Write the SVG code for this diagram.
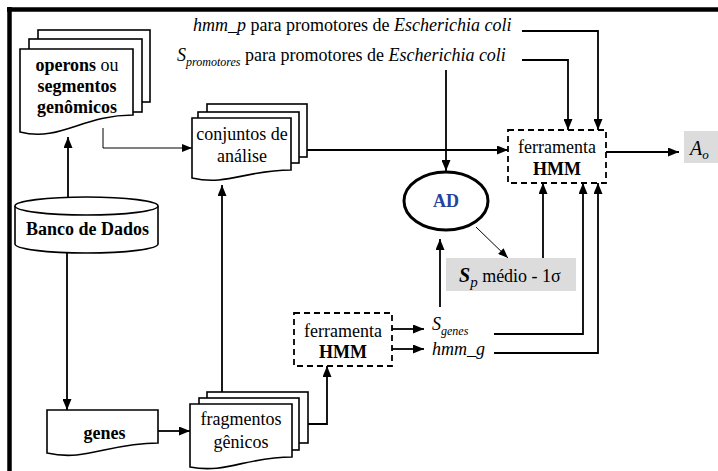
<svg xmlns="http://www.w3.org/2000/svg" width="718" height="471" viewBox="0 0 718 471">
<defs>
<marker id="ah" markerUnits="userSpaceOnUse" markerWidth="11" markerHeight="9" refX="11" refY="4.5" orient="auto">
<path d="M0,0 L11,4.5 L0,9 z" fill="#000"/>
</marker>
<marker id="ahs" markerUnits="userSpaceOnUse" markerWidth="10" markerHeight="8" refX="10" refY="4" orient="auto">
<path d="M0,0 L10,4 L0,8 z" fill="#000"/>
</marker>
</defs>
<rect width="718" height="471" fill="#fff"/>
<g id="frame" stroke="#000" stroke-width="4.5">
<line x1="7" y1="9.5" x2="718" y2="9.5"/>
<line x1="9.5" y1="7" x2="9.5" y2="471"/>
</g>

<g id="connectors" fill="none" stroke="#000" stroke-width="1.8">
<line x1="68" y1="197" x2="68" y2="137" marker-end="url(#ah)"/>
<line x1="67" y1="253" x2="67" y2="410" marker-end="url(#ah)"/>
<polyline stroke-width="1" points="103,128 103,148 192,148" marker-end="url(#ahs)"/>
<line x1="158" y1="431" x2="190" y2="431" marker-end="url(#ah)"/>
<line x1="222" y1="392" x2="222" y2="185" marker-end="url(#ah)"/>
<polyline points="308,424 327,424 327,366" marker-end="url(#ah)"/>
<line x1="392" y1="329" x2="424" y2="329" marker-end="url(#ah)"/>
<line x1="392" y1="349" x2="424" y2="349" marker-end="url(#ah)"/>
<line x1="307" y1="150" x2="508" y2="150" marker-end="url(#ah)"/>
<line x1="606" y1="152" x2="679" y2="152" marker-end="url(#ah)"/>
<polyline points="522,31 598,31 598,130" marker-end="url(#ah)"/>
<polyline points="522,60 568,60 568,130" marker-end="url(#ah)"/>
<line x1="446" y1="70" x2="446" y2="171" marker-end="url(#ah)"/>
<line x1="440" y1="307" x2="440" y2="239" marker-end="url(#ah)"/>
<line stroke-width="1" x1="476" y1="227" x2="508" y2="258" marker-end="url(#ahs)"/>
<line x1="543" y1="258" x2="543" y2="183" marker-end="url(#ah)"/>
<polyline points="494,334 583,334 583,183" marker-end="url(#ah)"/>
<polyline points="494,353 598,353 598,183" marker-end="url(#ah)"/>
</g>

<g id="operons">
<g fill="#fff" stroke="#000" stroke-width="1.6">
<rect x="38" y="30" width="112" height="72"/>
<rect x="29" y="39" width="113" height="73"/>
<path d="M20,49 H133 V115 C82,115 60,142 20,132 Z"/>
</g>
<text x="77" y="71" style="font-family:'Liberation Serif',serif !important" font-size="18" text-anchor="middle"><tspan font-weight="bold">operons</tspan> ou</text>
<text x="77" y="92" style="font-family:'Liberation Serif',serif !important" font-size="18" text-anchor="middle" font-weight="bold">segmentos</text>
<text x="77" y="113" style="font-family:'Liberation Serif',serif !important" font-size="18" text-anchor="middle" font-weight="bold">genômicos</text>
</g>

<g id="banco">
<g fill="#fff" stroke="#000" stroke-width="1.6">
<path d="M15,206 V244 A71.5,9 0 0 0 158,244 V206"/>
<ellipse cx="86.5" cy="206" rx="71.5" ry="9"/>
</g>
<text x="87.5" y="235" style="font-family:'Liberation Serif',serif !important" font-size="18" text-anchor="middle" font-weight="bold">Banco de Dados</text>
</g>

<g id="genes">
<path fill="#fff" stroke="#000" stroke-width="1.6" d="M47,410 H158 V443 C108,443 86,462 47,453 Z"/>
<text x="104.5" y="439" style="font-family:'Liberation Serif',serif !important" font-size="18" text-anchor="middle" font-weight="bold">genes</text>
</g>

<g id="conjuntos">
<g fill="#fff" stroke="#000" stroke-width="1.6">
<rect x="207" y="104" width="100" height="53"/>
<rect x="198" y="112" width="101" height="51"/>
<path d="M192,118 H291 V170 C246,170 227,186 192,178 Z"/>
</g>
<text x="242" y="140" style="font-family:'Liberation Serif',serif !important" font-size="18" text-anchor="middle">conjuntos de</text>
<text x="242" y="162" style="font-family:'Liberation Serif',serif !important" font-size="18" text-anchor="middle">análise</text>
</g>

<g id="fragmentos">
<g fill="#fff" stroke="#000" stroke-width="1.6">
<rect x="207" y="392" width="101" height="51"/>
<rect x="199" y="398" width="100" height="52"/>
<path d="M190,404 H292 V457 C246,457 226,474 190,467 Z"/>
</g>
<text x="241" y="425" style="font-family:'Liberation Serif',serif !important" font-size="18" text-anchor="middle">fragmentos</text>
<text x="241" y="448" style="font-family:'Liberation Serif',serif !important" font-size="18" text-anchor="middle">gênicos</text>
</g>

<g id="hmm-small">
<rect fill="#fff" stroke="#000" stroke-width="1.8" stroke-dasharray="6 4" x="294" y="313" width="98" height="53"/>
<text x="343" y="337" style="font-family:'Liberation Serif',serif !important" font-size="18" text-anchor="middle">ferramenta</text>
<text x="343" y="358" style="font-family:'Liberation Serif',serif !important" font-size="18" text-anchor="middle" font-weight="bold">HMM</text>
</g>

<g id="sgenes">
<text x="432" y="330" style="font-family:'Liberation Serif',serif !important" font-size="18" font-style="italic">S<tspan font-size="12" dy="5">genes</tspan></text>
</g>
<g id="hmmg">
<text x="432" y="355" style="font-family:'Liberation Serif',serif !important" font-size="18" font-style="italic">hmm_g</text>
</g>

<g id="hmm-big">
<rect fill="#fff" stroke="#000" stroke-width="1.8" stroke-dasharray="6 4" x="508" y="130" width="98" height="53"/>
<text x="557" y="153" style="font-family:'Liberation Serif',serif !important" font-size="18" text-anchor="middle">ferramenta</text>
<text x="557" y="175" style="font-family:'Liberation Serif',serif !important" font-size="18" text-anchor="middle" font-weight="bold">HMM</text>
</g>

<g id="ao">
<rect fill="#dcdcdc" x="684" y="131" width="34" height="32"/>
<text x="690" y="155" style="font-family:'Liberation Serif',serif !important" font-size="20" font-style="italic">A<tspan font-size="13" dy="4">o</tspan></text>
</g>

<g id="ad">
<ellipse cx="446" cy="201" rx="42" ry="29" fill="#fff" stroke="#000" stroke-width="3"/>
<text x="446" y="207" style="font-family:'Liberation Serif',serif !important" font-size="18" text-anchor="middle" font-weight="bold" fill="#2244a0">AD</text>
</g>

<g id="sp">
<rect fill="#dcdcdc" x="446" y="258" width="130" height="33"/>
<text x="459" y="282" style="font-family:'Liberation Serif',serif !important" font-size="18"><tspan font-weight="bold" font-style="italic" font-size="20">S</tspan><tspan font-style="italic" font-size="15" dy="5">p</tspan><tspan dy="-5"> médio - 1σ</tspan></text>
</g>

<g id="hmmp-label">
<text x="193" y="31" style="font-family:'Liberation Serif',serif !important" font-size="18"><tspan font-style="italic">hmm_p</tspan> para promotores de <tspan font-style="italic">Escherichia coli</tspan></text>
</g>
<g id="spromotores-label">
<text x="177" y="61" style="font-family:'Liberation Serif',serif !important" font-size="18"><tspan font-style="italic">S</tspan><tspan font-style="italic" font-size="12" dy="5">promotores</tspan><tspan dy="-5"> para promotores de </tspan><tspan font-style="italic">Escherichia coli</tspan></text>
</g>
</svg>
